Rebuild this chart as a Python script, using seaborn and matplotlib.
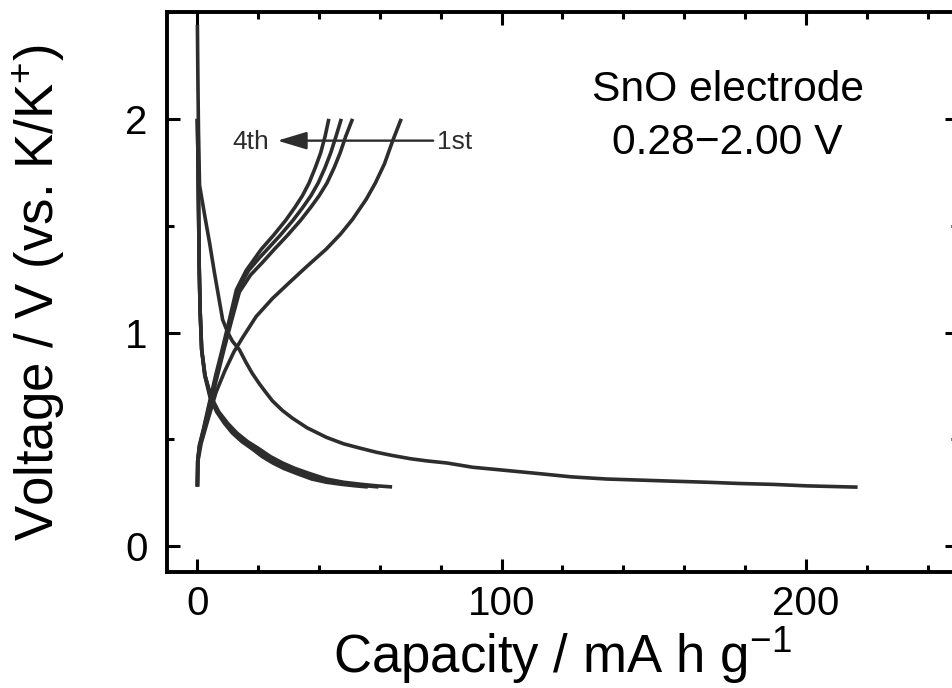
import matplotlib
matplotlib.use("Agg")
import matplotlib.pyplot as plt
import seaborn as sns
import pandas as pd
from matplotlib.ticker import MultipleLocator

# ---- data ----
dis1_cap = [0, 0.15, 0.35, 0.7, 2.5, 4.0, 5.6, 8.3, 10, 11.5, 13.8, 16, 18, 20.4, 22.5, 24.7, 28, 31.2,
            36, 42.4, 48, 53.3, 58.9, 64.1, 70, 75.3, 82, 90.5, 101.6, 112.5, 123, 134.5, 145.4, 156,
            167.4, 178.3, 189, 200.3, 217]
dis1_v = [2.44, 2.20, 1.95, 1.69, 1.54, 1.42, 1.28, 1.06, 1.00, 0.96, 0.92, 0.86, 0.81, 0.76, 0.72,
          0.68, 0.635, 0.60, 0.555, 0.51, 0.48, 0.46, 0.44, 0.425, 0.41, 0.40, 0.39, 0.37, 0.355,
          0.34, 0.325, 0.315, 0.31, 0.305, 0.30, 0.294, 0.29, 0.283, 0.277]

dis2_cap = [0, 0.2, 0.4, 0.6, 0.9, 1.4, 2.5, 4.5, 7, 10, 13, 16.5, 20.4, 24, 28, 32, 37, 42.4, 48, 54, 59, 64]
dis2_v = [2.0, 1.80, 1.55, 1.30, 1.10, 0.92, 0.80, 0.70, 0.63, 0.575, 0.53, 0.49, 0.455, 0.42, 0.39,
          0.365, 0.34, 0.315, 0.30, 0.29, 0.283, 0.278]

dis3_cap = [0, 0.2, 0.4, 0.6, 0.9, 1.4, 2.5, 4.3, 6.6, 9.4, 12.2, 15.5, 19.2, 22.6, 26.3, 30, 34.8, 40,
            45, 50.5, 55.5, 59.5]
dis3_v = [2.0, 1.80, 1.55, 1.30, 1.10, 0.92, 0.80, 0.70, 0.63, 0.575, 0.53, 0.49, 0.455, 0.42, 0.39,
          0.365, 0.34, 0.315, 0.30, 0.29, 0.283, 0.278]

dis4_cap = [0, 0.2, 0.4, 0.6, 0.9, 1.4, 2.4, 4.1, 6.3, 8.9, 11.5, 14.6, 18.1, 21.3, 24.8, 28.3, 32.8,
            37.6, 42.4, 47.5, 52, 56]
dis4_v = [2.0, 1.80, 1.55, 1.30, 1.10, 0.92, 0.80, 0.70, 0.63, 0.575, 0.53, 0.49, 0.455, 0.42, 0.39,
          0.365, 0.34, 0.315, 0.30, 0.29, 0.283, 0.278]

chg1_cap = [0, 0.2, 1.2, 3.0, 6.1, 9.0, 12, 15, 19.3, 24.7, 30.3, 36, 42.3, 47, 51, 55.5, 58.5, 61.5, 64.2, 67]
chg1_v = [0.28, 0.40, 0.48, 0.57, 0.72, 0.82, 0.91, 0.98, 1.075, 1.16, 1.235, 1.31, 1.39, 1.46, 1.53,
          1.624, 1.70, 1.79, 1.898, 2.0]

chg2_cap = [0, 0.1, 0.8, 2.3, 4.3, 6.6, 8.9, 11.3, 13.8, 17.5, 21.5, 25.3, 29.6, 33.9, 37.2, 40, 42.6,
            44.9, 46.9, 48.8, 51]
chg2_v = [0.28, 0.40, 0.47, 0.55, 0.67, 0.80, 0.93, 1.06, 1.19, 1.27, 1.33, 1.39, 1.455, 1.525, 1.585,
          1.64, 1.70, 1.77, 1.84, 1.92, 2.0]

chg3_cap = [0, 0.1, 0.7, 2.1, 4.1, 6.3, 8.6, 10.9, 13.3, 16.8, 20.4, 23, 27.2, 31.4, 34.6, 37.3, 39.7,
            41.9, 43.8, 45.6, 47.3]
chg3_v = [0.28, 0.40, 0.47, 0.55, 0.67, 0.80, 0.93, 1.06, 1.20, 1.29, 1.35, 1.39, 1.455, 1.525, 1.585,
          1.64, 1.70, 1.77, 1.84, 1.92, 2.0]

chg4_cap = [0, 0.1, 0.6, 2.0, 3.9, 6.0, 8.3, 10.5, 12.8, 16, 21, 25, 29, 32, 34.5, 36.7, 38.7, 40.5,
            42, 43.2]
chg4_v = [0.28, 0.40, 0.47, 0.55, 0.67, 0.80, 0.93, 1.06, 1.20, 1.29, 1.39, 1.455, 1.525, 1.585, 1.64,
          1.70, 1.77, 1.84, 1.92, 2.0]

x_ticks = [0, 100, 200]
y_ticks = [0, 1, 2]

curves = [(dis1_cap, dis1_v), (dis2_cap, dis2_v), (dis3_cap, dis3_v), (dis4_cap, dis4_v),
          (chg1_cap, chg1_v), (chg2_cap, chg2_v), (chg3_cap, chg3_v), (chg4_cap, chg4_v)]

# ---- style ----
sns.set_theme(style="ticks")
plt.rcParams["font.family"] = ["Liberation Sans", "DejaVu Sans"]
plt.rcParams["mathtext.fontset"] = "custom"
plt.rcParams["mathtext.rm"] = "Liberation Sans"
plt.rcParams["mathtext.it"] = "Liberation Sans:italic"
plt.rcParams["axes.unicode_minus"] = True
plt.rcParams["text.color"] = "black"
plt.rcParams["axes.labelcolor"] = "black"
plt.rcParams["xtick.color"] = "black"
plt.rcParams["ytick.color"] = "black"

fig = plt.figure(figsize=(9.52, 6.88), dpi=100)
ax = fig.add_axes([0.1754, 0.1686, 0.8309, 0.8140])

line_color = "#2d2d2d"
for i, (c, v) in enumerate(curves):
    df = pd.DataFrame({"cap": c, "v": v})
    sns.lineplot(data=df, x="cap", y="v", ax=ax, sort=False, estimator=None,
                 color=line_color, linewidth=2.6, solid_capstyle="butt")

ax.set_xlim(-10, 250)
ax.set_ylim(-0.12, 2.5)
ax.set_xticks(x_ticks)
ax.set_yticks(y_ticks)
ax.set_xticklabels([str(t) for t in x_ticks])
ax.set_yticklabels([str(t) for t in y_ticks])
ax.xaxis.set_minor_locator(MultipleLocator(20))
ax.yaxis.set_minor_locator(MultipleLocator(0.5))

for s in ax.spines.values():
    s.set_visible(True)
    s.set_linewidth(2.8)
    s.set_color("black")

ax.tick_params(which="both", direction="in", top=True, right=True, width=2.2,
               color="black", labelcolor="black")
ax.tick_params(which="major", length=9.5)
ax.tick_params(which="minor", length=5)
ax.tick_params(axis="x", which="major", labelsize=29, pad=9)
ax.tick_params(axis="y", which="major", labelsize=29, pad=14)

ax.set_xlabel(r"Capacity / mA h g$^{\mathregular{-1}}$", fontsize=38, labelpad=2, color="black")
ax.set_ylabel(r"Voltage / V (vs. K/K$^{\mathregular{+}}$)", fontsize=38, labelpad=42, color="black")

ax.text(174.3, 2.085, "SnO electrode", fontsize=30.7, ha="center", va="baseline", color="black")
ax.text(174.3, 1.836, "0.28\u22122.00 V", fontsize=30.7, ha="center", va="baseline", color="black")

ax.annotate("", xy=(26.3, 1.898), xytext=(77.5, 1.898),
            arrowprops=dict(arrowstyle="-|>,head_length=1.5,head_width=0.45",
                            color=line_color, lw=1.7, shrinkA=0, shrinkB=0))
ax.text(23.7, 1.89, "4th", fontsize=19, ha="right", va="center", color=line_color)
ax.text(78.6, 1.89, "1st", fontsize=19, ha="left", va="center", color=line_color)

fig.savefig("out.png", dpi=100)
